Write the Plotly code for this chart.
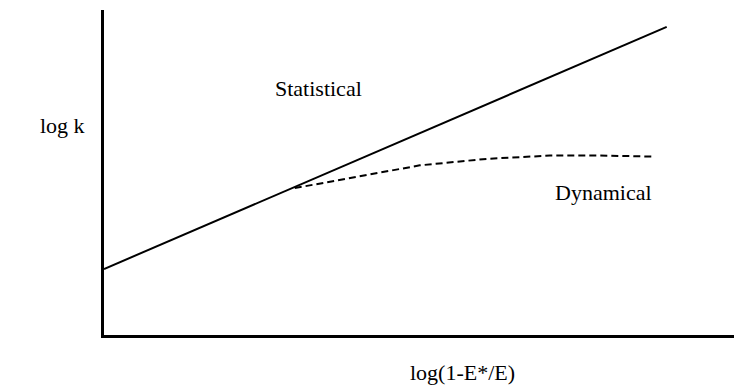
import plotly.graph_objects as go

# Data (abstract units)
stat_x = [0.0, 8.82]
stat_y = [2.03, 9.48]
dyn_x = [2.99, 3.97, 4.95, 6.00, 6.99, 7.77, 8.64]
dyn_y = [4.52, 4.86, 5.22, 5.42, 5.52, 5.52, 5.49]

OFF = 8  # page body margin
W, H = 742 - OFF, 386 - OFF
L, R, T, B = 104 - OFF, 0, 10 - OFF, 51
pw, ph = W - L - R, H - T - B

fig = go.Figure()
fig.add_trace(go.Scatter(x=stat_x, y=stat_y, mode="lines",
                         line=dict(color="black", width=2), showlegend=False))
fig.add_trace(go.Scatter(x=dyn_x, y=dyn_y, mode="lines",
                         line=dict(color="black", width=2, dash="7px,4px"),
                         showlegend=False))

font = dict(family="Liberation Serif", size=22, color="black")

def px(x):
    return (x - OFF - L) / pw

def py(y):
    return (H - B - (y - OFF)) / ph

anns = [
    ("Statistical", 318, 88),
    ("Dynamical", 603, 193),
    ("log k", 62, 126),
    ("log(1-E*/E)", 462, 372),
]
for t, x, y in anns:
    fig.add_annotation(text=t, x=px(x), y=py(y), xref="paper", yref="paper",
                       showarrow=False, font=font, xanchor="center", yanchor="middle")

fig.update_xaxes(range=[0, 10], showgrid=False, zeroline=False, showticklabels=False,
                 ticks="", showline=True, linecolor="black", linewidth=3)
fig.update_yaxes(range=[0, 10], showgrid=False, zeroline=False, showticklabels=False,
                 ticks="", showline=True, linecolor="black", linewidth=3)
fig.update_layout(width=W, height=H, margin=dict(l=L, r=R, t=T, b=B),
                  plot_bgcolor="white", paper_bgcolor="white")
fig.write_html("out.html")
